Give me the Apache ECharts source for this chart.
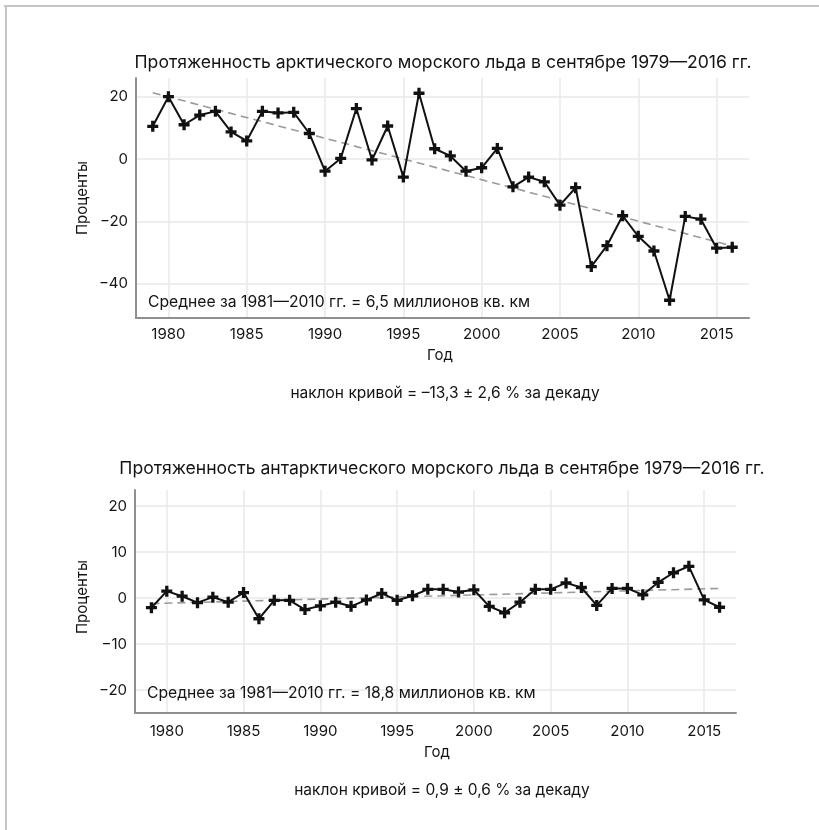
<!DOCTYPE html>
<html>
<head>
<meta charset="utf-8">
<script src="https://cdn.jsdelivr.net/npm/echarts@6/dist/echarts.min.js"></script>
<style>
html,body{margin:0;padding:0;background:#fff;}
#chart{width:819px;height:830px;}
</style>
</head>
<body>
<div id="chart"></div>
<script>
// ---- data ----
const years = [1979,1980,1981,1982,1983,1984,1985,1986,1987,1988,1989,1990,1991,1992,1993,1994,1995,1996,1997,1998,1999,2000,2001,2002,2003,2004,2005,2006,2007,2008,2009,2010,2011,2012,2013,2014,2015,2016];
const arctic = [10.5,20.0,11.0,14.1,15.3,8.7,5.8,15.3,14.8,15.0,8.2,-3.9,0.2,16.2,-0.3,10.6,-5.8,21.1,3.3,1.0,-3.9,-2.8,3.4,-8.9,-5.8,-7.3,-14.8,-9.2,-34.5,-27.8,-18.2,-24.8,-29.5,-45.3,-18.4,-19.3,-28.6,-28.3];
const antarctic = [-2.1,1.5,0.4,-1.0,0.2,-0.9,1.2,-4.5,-0.5,-0.5,-2.5,-1.7,-0.9,-1.8,-0.4,1.0,-0.5,0.5,1.9,1.9,1.3,1.8,-1.8,-3.2,-0.9,1.9,1.9,3.3,2.3,-1.6,2.1,2.1,0.7,3.4,5.5,6.9,-0.4,-2.0];
const trendYears = [1979, 2016];
const arcticTrend = [21.3, -27.9];
const antarcticTrend = [-1.2, 2.1];
const yearTicks = [1980,1985,1990,1995,2000,2005,2010,2015];
const arcticTicks = [-40,-20,0,20];
const antarcticTicks = [-20,-10,0,10,20];

const titleTop = 'Протяженность арктического морского льда в сентябре 1979—2016 гг.';
const titleBottom = 'Протяженность антарктического морского льда в сентябре 1979—2016 гг.';
const meanTop = 'Среднее за 1981—2010 гг. = 6,5 миллионов кв. км';
const meanBottom = 'Среднее за 1981—2010 гг. = 18,8 миллионов кв. км';
const slopeTop = 'наклон кривой = –13,3 ± 2,6 % за декаду';
const slopeBottom = 'наклон кривой = 0,9 ± 0,6 % за декаду';

// ---- chart ----
const FONT = 'Inter, "Liberation Sans", Arial, sans-serif';
const TXT = '#141414';
const plus = 'path://M3.5,0H6.5V3.5H10V6.5H6.5V10H3.5V6.5H0V3.5H3.5Z';

function fmt(v){ return v < 0 ? '\u2212' + Math.abs(v) : String(v); }
function pairs(xs, ys){ return xs.map((x,i)=>[x, ys[i]]); }

function xAxisDef(idx, margin){
  return {
    type:'value', gridIndex:idx, min:1977.93, max:2017.07,
    axisLine:{show:true, onZero:false, lineStyle:{color:'#8f8f8f', width:2}},
    axisTick:{show:false, customValues:yearTicks},
    axisLabel:{customValues:yearTicks, color:TXT, fontSize:15, fontFamily:FONT, margin:margin, formatter:v=>String(v)},
    splitLine:{show:true, lineStyle:{color:'#e9e9e9', width:1.5}}
  };
}
function yAxisDef(idx, min, max, ticks){
  return {
    type:'value', gridIndex:idx, min:min, max:max,
    axisLine:{show:true, onZero:false, lineStyle:{color:'#8f8f8f', width:2}},
    axisTick:{show:false, customValues:ticks},
    axisLabel:{customValues:ticks, color:TXT, fontSize:15, fontFamily:FONT, margin:8, formatter:fmt},
    splitLine:{show:true, lineStyle:{color:'#e9e9e9', width:1.5}}
  };
}
function dataSeries(idx, vals){
  return {
    type:'line', xAxisIndex:idx, yAxisIndex:idx, data:pairs(years, vals),
    symbol:plus, symbolSize:11, showSymbol:true,
    lineStyle:{color:'#111', width:2}, itemStyle:{color:'#111'},
    silent:true, z:3, animation:false
  };
}
function trendSeries(idx, vals){
  return {
    type:'line', xAxisIndex:idx, yAxisIndex:idx, data:pairs(trendYears, vals),
    symbol:'none', lineStyle:{color:'#9a9a9a', width:1.6, type:[8,5]},
    silent:true, z:2, animation:false
  };
}
function txt(x, y, text, opts){
  return {type:'text', x:x, y:y, z:100, silent:true,
    style:Object.assign({text:text, fill:TXT, font:'15.5px ' + FONT, textAlign:'center', textVerticalAlign:'middle'}, opts||{})};
}

const chart = echarts.init(document.getElementById('chart'), null, {renderer:'canvas'});
chart.setOption({
  animation:false,
  backgroundColor:'#fff',
  grid:[
    {left:136, top:78, width:613, height:240, containLabel:false},
    {left:135, top:490, width:601, height:223, containLabel:false}
  ],
  xAxis:[xAxisDef(0, 9), xAxisDef(1, 11)],
  yAxis:[yAxisDef(0, -51, 26, arcticTicks), yAxisDef(1, -25, 23.5, antarcticTicks)],
  series:[trendSeries(0, arcticTrend), dataSeries(0, arctic), trendSeries(1, antarcticTrend), dataSeries(1, antarctic)],
  graphic:[
    {type:'line', shape:{x1:4, y1:6, x2:819, y2:6}, style:{stroke:'#c4c4c4', lineWidth:2}, silent:true},
    {type:'line', shape:{x1:6, y1:5, x2:6, y2:830}, style:{stroke:'#c4c4c4', lineWidth:2}, silent:true},
    txt(443, 63, titleTop, {font:'17.6px ' + FONT}),
    txt(442, 469, titleBottom, {font:'17.6px ' + FONT}),
    txt(148, 302, meanTop, {textAlign:'left', font:'15.7px ' + FONT}),
    txt(147, 693, meanBottom, {textAlign:'left', font:'15.7px ' + FONT}),
    txt(440, 355, 'Год', {font:'15px ' + FONT}),
    txt(437, 752, 'Год', {font:'15px ' + FONT}),
    txt(445, 393, slopeTop),
    txt(442, 790, slopeBottom),
    {type:'text', x:82, y:198, rotation:Math.PI/2, silent:true,
      style:{text:'Проценты', fill:TXT, font:'15px ' + FONT, textAlign:'center', textVerticalAlign:'middle'}},
    {type:'text', x:82, y:597, rotation:Math.PI/2, silent:true,
      style:{text:'Проценты', fill:TXT, font:'15px ' + FONT, textAlign:'center', textVerticalAlign:'middle'}}
  ]
});
</script>
</body>
</html>
